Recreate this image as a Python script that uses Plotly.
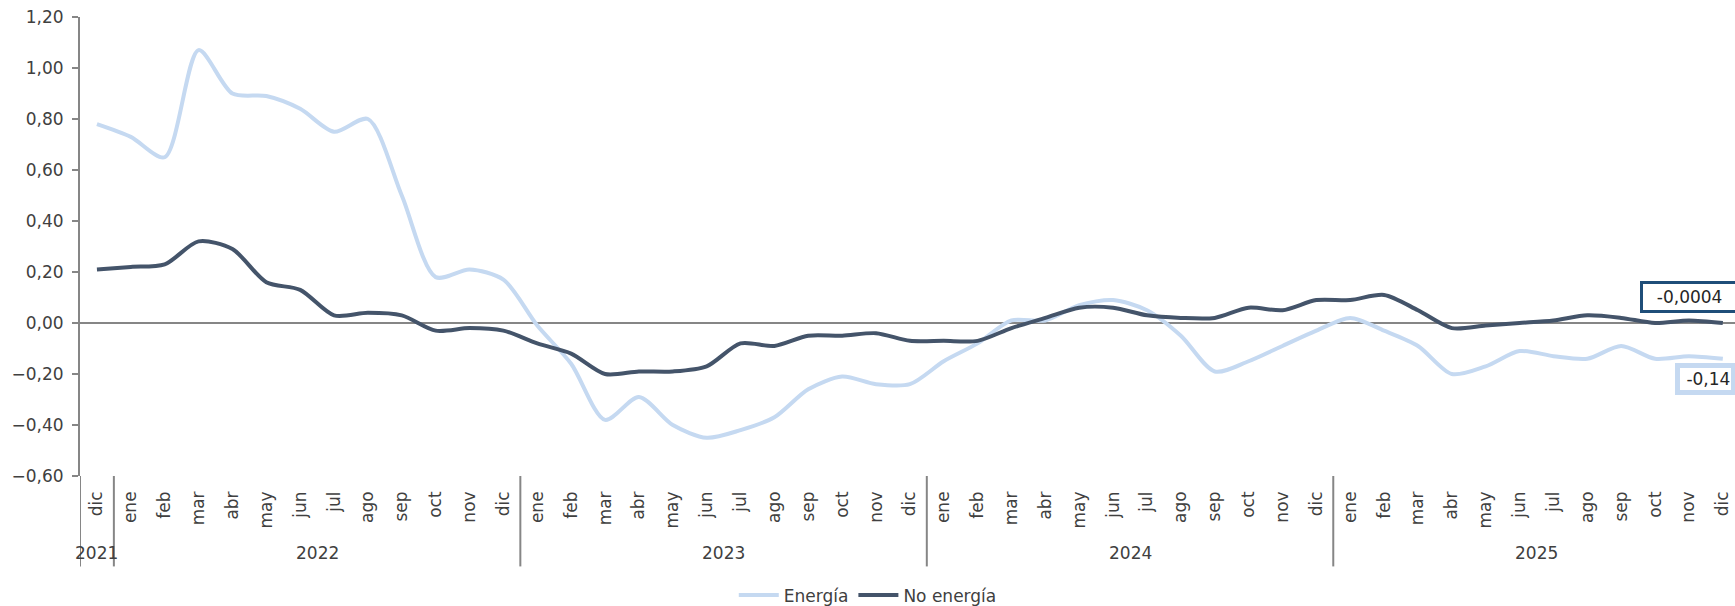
import plotly.graph_objects as go

# constants:
FONT = "DejaVu Sans"
TEXT_GREY = "#404040"
AXIS_GREY = "#868686"
LIGHT_BLUE = "#C5D9F1"
DARK_SLATE = "#44546A"
BOX_BLUE = "#1F4E79"

# data:
months = ["dic"] + ["ene", "feb", "mar", "abr", "may", "jun", "jul", "ago", "sep", "oct", "nov", "dic"] * 4
years = ["2021"] + ["2022"] * 12 + ["2023"] * 12 + ["2024"] * 12 + ["2025"] * 12

energia = [0.78, 0.73, 0.65, 1.07, 0.90, 0.89, 0.84, 0.75, 0.80, 0.50, 0.18, 0.21, 0.17,
           -0.01, -0.16, -0.38, -0.29, -0.40, -0.45, -0.42, -0.37, -0.26, -0.21, -0.24, -0.24,
           -0.15, -0.08, 0.01, 0.01, 0.07, 0.09, 0.05, -0.05, -0.19, -0.15, -0.09, -0.03,
           0.02, -0.03, -0.09, -0.20, -0.17, -0.11, -0.13, -0.14, -0.09, -0.14, -0.13, -0.14]
no_energia = [0.21, 0.22, 0.23, 0.32, 0.29, 0.16, 0.13, 0.03, 0.04, 0.03, -0.03, -0.02, -0.03,
              -0.08, -0.12, -0.20, -0.19, -0.19, -0.17, -0.08, -0.09, -0.05, -0.05, -0.04, -0.07,
              -0.07, -0.07, -0.02, 0.02, 0.06, 0.06, 0.03, 0.02, 0.02, 0.06, 0.05, 0.09,
              0.09, 0.11, 0.05, -0.02, -0.01, 0.00, 0.01, 0.03, 0.02, 0.00, 0.01, -0.0004]

label_energia = "-0,14"
label_no_energia = "-0,0004"

idx = list(range(len(months)))

fig = go.Figure()
fig.add_trace(go.Scatter(x=idx, y=energia, mode="lines", name="Energía",
                         line=dict(color=LIGHT_BLUE, width=4, shape="spline", smoothing=0.8)))
fig.add_trace(go.Scatter(x=idx, y=no_energia, mode="lines", name="No energía",
                         line=dict(color=DARK_SLATE, width=4, shape="spline", smoothing=0.8)))

# year groups: centred labels + dividers between groups
groups = []
for i, yr in enumerate(years):
    if not groups or groups[-1][0] != yr:
        groups.append([yr, i, i])
    else:
        groups[-1][2] = i

for yr, first, last in groups:
    fig.add_annotation(x=(first + last) / 2, y=-0.167, xref="x", yref="paper", text=yr,
                       showarrow=False, yanchor="middle", font=dict(size=17, color=TEXT_GREY))
    fig.add_shape(type="line", xref="x", yref="paper", x0=first - 0.5, x1=first - 0.5,
                  y0=0, y1=-0.197, line=dict(color=AXIS_GREY, width=2))

# end-of-series value boxes
nb = "\u00a0"
fig.add_annotation(x=idx[-1], y=no_energia[-1], text=nb * 2 + label_no_energia + nb * 2,
                   showarrow=False, xanchor="center", yanchor="middle", xshift=-33, yshift=26,
                   bgcolor="white", bordercolor=BOX_BLUE, borderwidth=3,
                   borderpad=3, font=dict(size=17, color="#262626"))
fig.add_annotation(x=idx[-1], y=energia[-1], text=nb + label_energia, showarrow=False,
                   xanchor="center", yanchor="middle", xshift=-17, yshift=-20,
                   bgcolor="white", bordercolor=LIGHT_BLUE, borderwidth=5,
                   borderpad=1, font=dict(size=17, color="#262626"))

fig.update_layout(
    width=1735, height=606,
    margin=dict(l=80, r=0, t=17, b=130, autoexpand=False),
    plot_bgcolor="white", paper_bgcolor="white",
    separators=",.",
    font=dict(family=FONT, size=17, color=TEXT_GREY),
    showlegend=True,
    legend=dict(orientation="h", x=0.476, xanchor="center", y=-0.26, yanchor="middle",
                font=dict(size=17, color=TEXT_GREY), itemwidth=40),
)
fig.update_xaxes(range=[-0.5, 48.36], tickmode="array", tickvals=idx, ticktext=months,
                 tickangle=-90, ticks="", showgrid=False, zeroline=False, showline=False,
                 ticklabelstandoff=11, ticklabeloverflow="allow",
                 tickfont=dict(size=17, color=TEXT_GREY))
fig.update_yaxes(range=[-0.6, 1.2], dtick=0.2, tickformat=".2f", showgrid=False,
                 zeroline=True, zerolinecolor=AXIS_GREY, zerolinewidth=2,
                 showline=True, linecolor=AXIS_GREY, linewidth=2,
                 ticks="outside", ticklen=6, tickcolor=AXIS_GREY, tickwidth=2,
                 ticklabelstandoff=5, tickfont=dict(size=17, color=TEXT_GREY))

fig.write_html("out.html", config={"displayModeBar": False},
               post_script="document.body.style.margin='0';document.body.style.overflow='hidden';")
